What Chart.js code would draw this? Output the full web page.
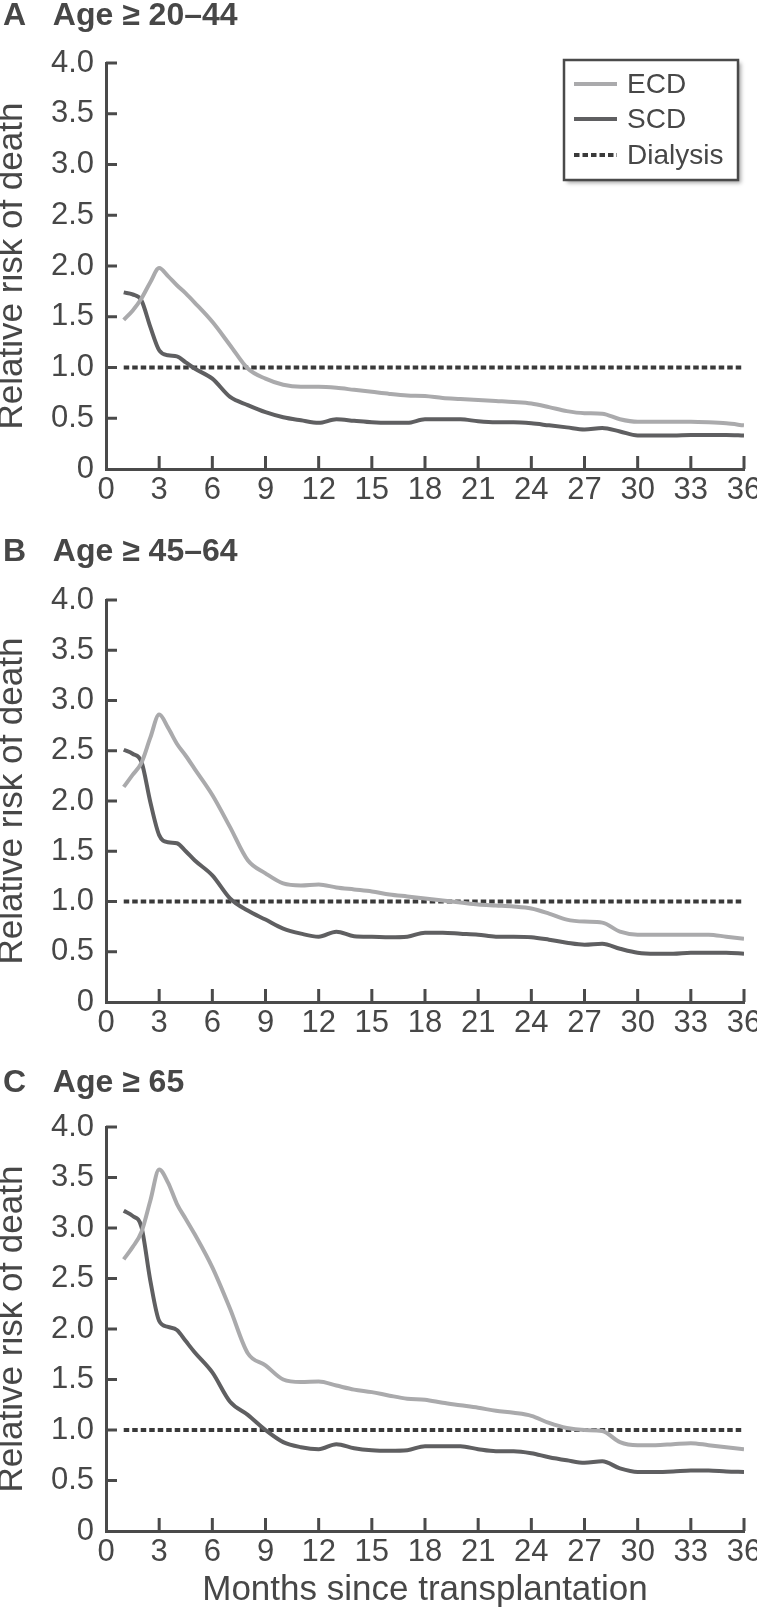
<!DOCTYPE html>
<html>
<head>
<meta charset="utf-8">
<script src="https://cdn.jsdelivr.net/npm/chart.js@4.4.1/dist/chart.umd.min.js"></script>
<style>
html, body { margin: 0; padding: 0; background: #ffffff; }
#wrap { position: relative; width: 757px; height: 1611px; overflow: hidden; }
#wrap canvas { position: absolute; left: 0; }
</style>
</head>
<body>
<div id="wrap">
  <canvas id="cA" width="757" height="520" style="top:0px"></canvas>
  <canvas id="cB" width="757" height="520" style="top:520px"></canvas>
  <canvas id="cC" width="757" height="571" style="top:1040px"></canvas>
</div>
<script>
// ---------- data ----------
const months = [1, 1.5, 2, 2.5, 3, 3.5, 4, 4.5, 5, 6, 7, 8, 9, 10, 11, 12, 13, 14, 15, 16, 17, 18, 19, 20,
  21, 22, 23, 24, 25, 26, 27, 28, 29, 30, 31, 32, 33, 34, 35, 36];

const ecdA = [1.47, 1.56, 1.68, 1.84, 1.98, 1.90, 1.81, 1.73, 1.64, 1.45, 1.22, 0.99, 0.89, 0.83, 0.81, 0.81,
  0.80, 0.78, 0.76, 0.74, 0.725, 0.72, 0.70, 0.69, 0.68, 0.67, 0.66, 0.645, 0.61, 0.57, 0.55, 0.545,
  0.49, 0.465, 0.465, 0.465, 0.465, 0.46, 0.45, 0.43];
const scdA = [1.74, 1.72, 1.66, 1.40, 1.17, 1.12, 1.11, 1.05, 0.99, 0.89, 0.71, 0.63, 0.56, 0.51, 0.48, 0.455,
  0.49, 0.475, 0.46, 0.455, 0.455, 0.49, 0.49, 0.49, 0.47, 0.46, 0.46, 0.45, 0.43, 0.41, 0.39, 0.405,
  0.37, 0.33, 0.33, 0.33, 0.335, 0.335, 0.335, 0.33];

const ecdB = [2.14, 2.26, 2.38, 2.63, 2.86, 2.73, 2.57, 2.45, 2.32, 2.06, 1.74, 1.41, 1.28, 1.18, 1.16, 1.17,
  1.14, 1.12, 1.10, 1.07, 1.05, 1.03, 1.01, 0.99, 0.97, 0.96, 0.95, 0.93, 0.88, 0.82, 0.80, 0.79,
  0.70, 0.67, 0.67, 0.67, 0.67, 0.67, 0.65, 0.63];
const scdB = [2.51, 2.47, 2.39, 1.99, 1.66, 1.59, 1.58, 1.50, 1.41, 1.26, 1.03, 0.91, 0.82, 0.73, 0.68, 0.65,
  0.70, 0.655, 0.65, 0.645, 0.65, 0.69, 0.69, 0.68, 0.67, 0.65, 0.65, 0.645, 0.62, 0.59, 0.57, 0.58,
  0.53, 0.49, 0.48, 0.48, 0.49, 0.49, 0.49, 0.48];

const ecdC = [2.69, 2.81, 2.96, 3.27, 3.58, 3.45, 3.24, 3.09, 2.94, 2.61, 2.20, 1.76, 1.64, 1.50, 1.475, 1.48,
  1.44, 1.40, 1.375, 1.34, 1.31, 1.30, 1.27, 1.245, 1.22, 1.19, 1.17, 1.14, 1.07, 1.02, 1.00, 0.99,
  0.88, 0.85, 0.85, 0.86, 0.87, 0.85, 0.83, 0.81];
const scdC = [3.17, 3.12, 3.01, 2.48, 2.08, 2.02, 1.99, 1.88, 1.77, 1.57, 1.28, 1.15, 1.00, 0.88, 0.83, 0.81,
  0.86, 0.82, 0.80, 0.795, 0.80, 0.84, 0.84, 0.84, 0.81, 0.79, 0.79, 0.77, 0.73, 0.70, 0.675, 0.69,
  0.62, 0.585, 0.585, 0.59, 0.60, 0.60, 0.59, 0.585];

const dialysisMonths = [1, 36];
const dialysisValues = [1.0, 1.0];

const xTickValues = [0, 3, 6, 9, 12, 15, 18, 21, 24, 27, 30, 33, 36];
const yTickValues = [0, 0.5, 1.0, 1.5, 2.0, 2.5, 3.0, 3.5, 4.0];
const yTickLabels = ['0', '0.5', '1.0', '1.5', '2.0', '2.5', '3.0', '3.5', '4.0'];

const panelLetters = ['A', 'B', 'C'];
const panelTitles = ['Age \u2265 20\u201344', 'Age \u2265 45\u201364', 'Age \u2265 65'];
const seriesLabels = ['ECD', 'SCD', 'Dialysis'];
const xAxisTitle = 'Months since transplantation';
const yAxisTitle = 'Relative risk of death';

// ---------- styles ----------
const FONT = '"Liberation Sans", Arial, Helvetica, sans-serif';
const TEXT = '#474747';
const AXIS = '#4a4a4a';
const ECD_COLOR = '#aaaaac';
const SCD_COLOR = '#5f5f61';
const DIAL_COLOR = '#3a3a3a';

const inwardTicks = {
  id: 'inwardTicks',
  afterDatasetsDraw(chart) {
    const { ctx, chartArea: a, scales: { x, y } } = chart;
    ctx.save();
    ctx.strokeStyle = AXIS;
    ctx.lineWidth = 3;
    ctx.lineCap = 'butt';
    x.ticks.forEach(t => {
      if (t.value === 0) return;
      const px = x.getPixelForValue(t.value);
      ctx.beginPath(); ctx.moveTo(px, a.bottom); ctx.lineTo(px, a.bottom - 13); ctx.stroke();
    });
    y.ticks.forEach(t => {
      if (t.value === 0) return;
      const py = y.getPixelForValue(t.value);
      ctx.beginPath(); ctx.moveTo(a.left, py); ctx.lineTo(a.left + 11, py); ctx.stroke();
    });
    ctx.restore();
  }
};

const boxLegend = {
  id: 'boxLegend',
  afterDraw(chart) {
    const { ctx, chartArea: a } = chart;
    const w = 174, h = 120;
    const left = a.right - 6 - w, top = a.top - 3;
    ctx.save();
    ctx.shadowColor = 'rgba(0,0,0,0.35)';
    ctx.shadowBlur = 4;
    ctx.shadowOffsetX = 3;
    ctx.shadowOffsetY = 3;
    ctx.fillStyle = '#ffffff';
    ctx.fillRect(left, top, w, h);
    ctx.shadowColor = 'transparent';
    ctx.lineWidth = 2.5;
    ctx.strokeStyle = AXIS;
    ctx.strokeRect(left, top, w, h);
    ctx.font = '28px ' + FONT;
    ctx.fillStyle = TEXT;
    ctx.textBaseline = 'middle';
    ctx.textAlign = 'left';
    const rows = [24, 59, 95];
    chart.data.datasets.forEach((ds, i) => {
      const yy = top + rows[i];
      ctx.beginPath();
      ctx.strokeStyle = ds.borderColor;
      ctx.lineWidth = ds.borderWidth;
      ctx.setLineDash(ds.borderDash || []);
      ctx.moveTo(left + 10, yy);
      ctx.lineTo(left + 53, yy);
      ctx.stroke();
      ctx.setLineDash([]);
      ctx.fillText(ds.label, left + 63, yy + 1);
    });
    ctx.restore();
  }
};

function makeChart(id, idx, ecd, scd, cfg) {
  const plugins = [inwardTicks];
  if (cfg.legend) plugins.push(boxLegend);
  return new Chart(document.getElementById(id), {
    type: 'line',
    data: {
      datasets: [
        { label: seriesLabels[0], data: months.map((m, i) => ({ x: m, y: ecd[i] })),
          borderColor: ECD_COLOR, borderWidth: 4, pointRadius: 0, cubicInterpolationMode: 'monotone', fill: false },
        { label: seriesLabels[1], data: months.map((m, i) => ({ x: m, y: scd[i] })),
          borderColor: SCD_COLOR, borderWidth: 4, pointRadius: 0, cubicInterpolationMode: 'monotone', fill: false },
        { label: seriesLabels[2], data: dialysisMonths.map((m, i) => ({ x: m, y: dialysisValues[i] })),
          borderColor: DIAL_COLOR, borderWidth: 4, borderDash: [5.5, 3], borderCapStyle: 'butt', pointRadius: 0, fill: false }
      ]
    },
    options: {
      responsive: false,
      animation: false,
      events: [],
      layout: { padding: { left: 3, right: 13, top: 0, bottom: 0 } },
      plugins: {
        legend: { display: false },
        tooltip: { enabled: false },
        title: {
          display: true,
          text: panelLetters[idx] + '   ' + panelTitles[idx],
          align: 'start',
          color: TEXT,
          font: { family: FONT, size: 32, weight: 'bold', lineHeight: 1 },
          padding: { top: cfg.titleTop, bottom: cfg.titleBottom }
        }
      },
      scales: {
        x: {
          type: 'linear', min: 0, max: 36,
          afterBuildTicks: s => { s.ticks = xTickValues.map(v => ({ value: v })); },
          afterFit: s => { s.height = cfg.xHeight; s.paddingLeft = 0; s.paddingRight = 0; },
          grid: { display: false, drawTicks: false },
          border: { display: true, color: AXIS, width: 3 },
          ticks: { color: TEXT, font: { family: FONT, size: 31 }, padding: 3, maxRotation: 0, autoSkip: false },
          title: {
            display: !!cfg.xTitle, text: xAxisTitle, color: TEXT,
            font: { family: FONT, size: 35, lineHeight: 1 }, padding: { top: 0, bottom: 3 }
          }
        },
        y: {
          min: 0, max: 4,
          afterBuildTicks: s => { s.ticks = yTickValues.map(v => ({ value: v })); },
          afterFit: s => { s.width = 103; },
          grid: { display: false, drawTicks: false },
          border: { display: true, color: AXIS, width: 3 },
          ticks: { color: TEXT, font: { family: FONT, size: 31 }, padding: 12,
                   callback: (v, i) => yTickLabels[i] },
          title: {
            display: true, text: yAxisTitle, color: TEXT,
            font: { family: FONT, size: 35, lineHeight: 0.52 }, padding: 0
          }
        }
      }
    },
    plugins: plugins
  });
}

makeChart('cA', 0, ecdA, scdA, { titleTop: 0.5, titleBottom: 30.5, xHeight: 51, legend: true });
makeChart('cB', 1, ecdB, scdB, { titleTop: 16.5, titleBottom: 31.5, xHeight: 38 });
makeChart('cC', 2, ecdC, scdC, { titleTop: 27.5, titleBottom: 27.5, xHeight: 80, xTitle: true });
</script>
</body>
</html>
